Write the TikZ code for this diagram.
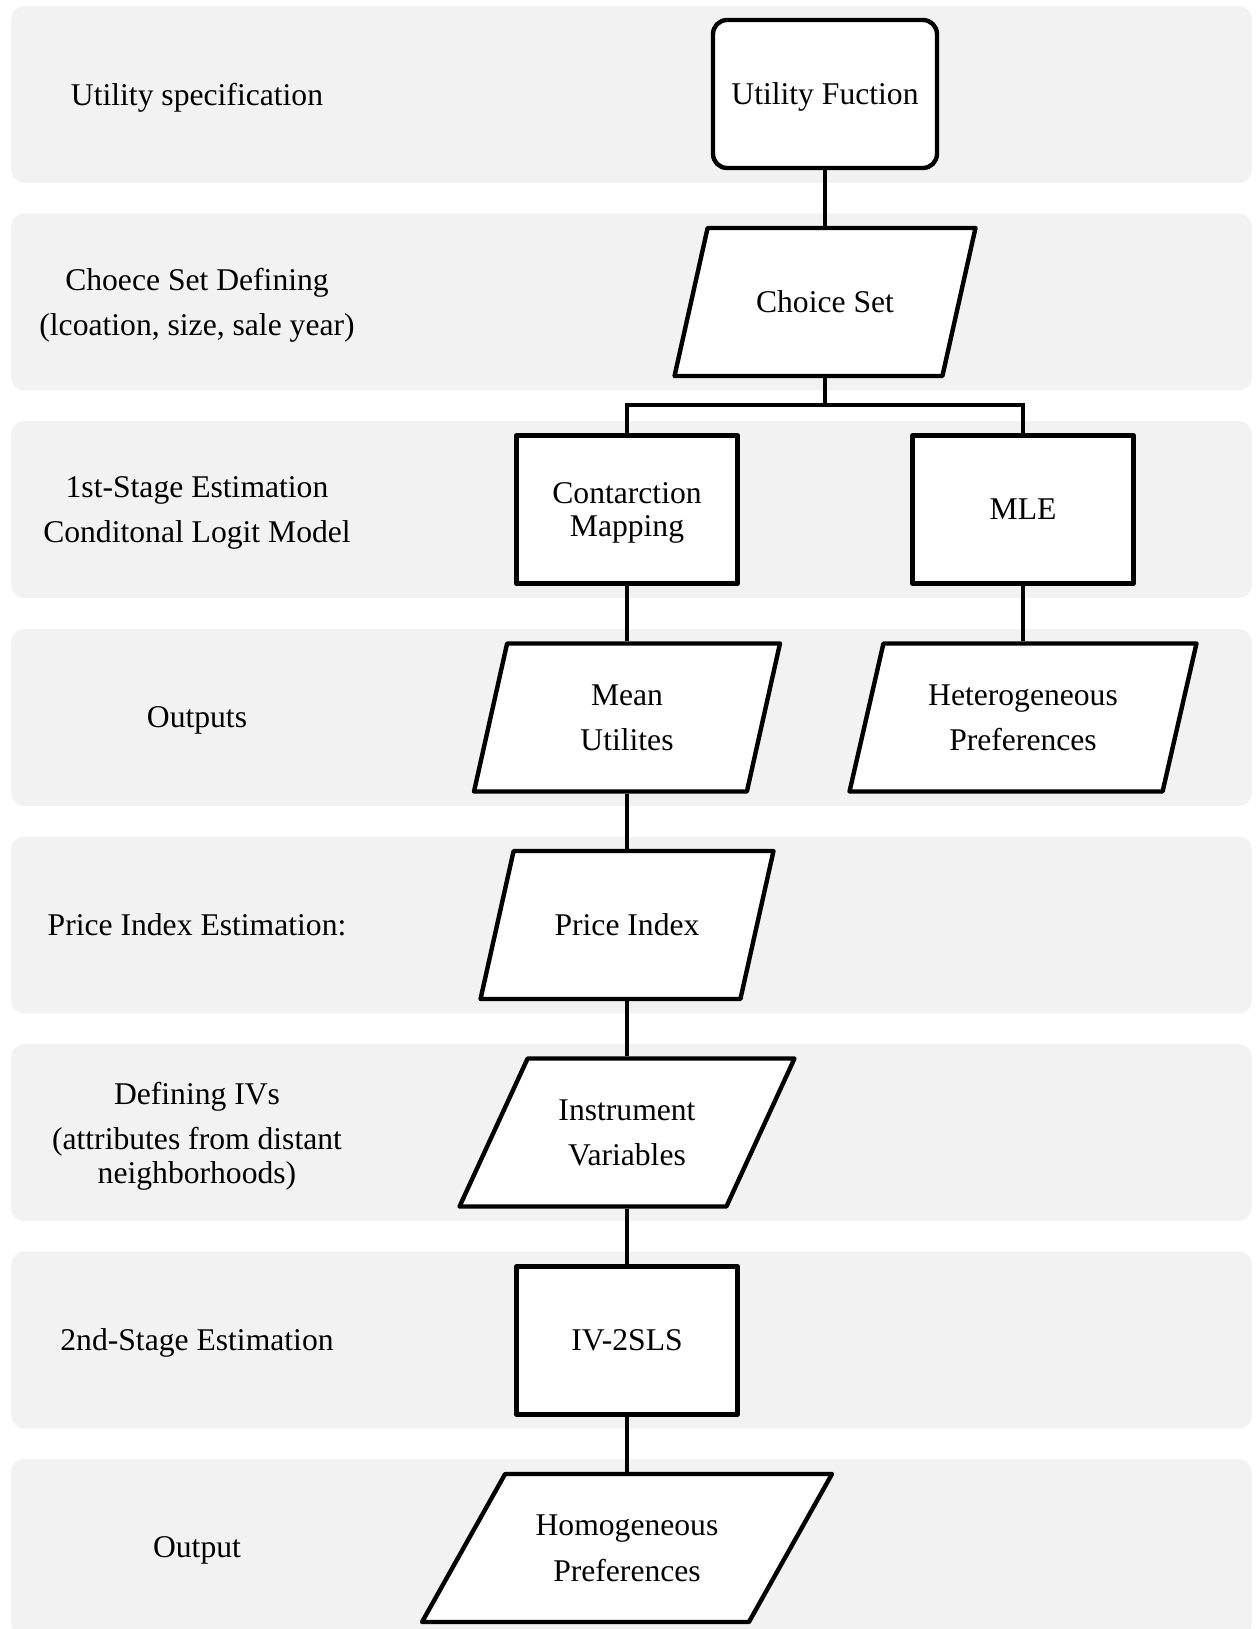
\documentclass[tikz,border=0pt]{standalone}
\usepackage{fontspec}
\setmainfont{Liberation Serif}
\usetikzlibrary{shapes.geometric}
\definecolor{bandgray}{RGB}{242,242,242}

\begin{document}
\begin{tikzpicture}[x=0.02cm,y=-0.02cm,
  every node/.style={font=\fontsize{18}{26}\selectfont,align=center,text depth=0pt},
  band/.style={fill=bandgray,rounded corners=0.26cm,minimum width=24.82cm,minimum height=3.54cm,inner sep=0pt},
  startbox/.style={draw,line width=2.5pt,fill=white,rounded corners=0.28cm,minimum width=4.48cm,minimum height=2.96cm},
  procbox/.style={draw,line width=2.5pt,fill=white,line join=round,minimum width=4.42cm,minimum height=2.96cm},
  databox/.style n args={3}{draw,line width=2.5pt,fill=white,line join=round,trapezium,trapezium left angle=#1,trapezium right angle=#2,trapezium stretches body,inner xsep=0pt,inner ysep=1.48cm,minimum width=#3},
  link/.style={line width=2.5pt}]
\useasboundingbox (0,0) rectangle (1257,1629);
\clip (0,0) rectangle (1257,1629);
% rows
\draw (631.5,94.5) node[band](row1) {};
\draw (631.5,302) node[band](row2) {};
\draw (631.5,509.5) node[band](row3) {};
\draw (631.5,717.5) node[band](row4) {};
\draw (631.5,925) node[band](row5) {};
\draw (631.5,1132.5) node[band](row6) {};
\draw (631.5,1340) node[band](row7) {};
\draw (631.5,1547.5) node[band](row8) {};
% row labels
\draw (197,94.5) node(specl) {Utility specification};
\draw (197,302) node(setl) {Choece Set Defining\\(lcoation, size, sale year)};
\draw (197,509.5) node(estl) {1st-Stage Estimation\\Conditonal Logit Model};
\draw (197,717.5) node(outl) {Outputs};
\draw (197,925) node(pricel) {Price Index Estimation:};
\draw (197,1132.5) node(ivl) {Defining IVs\\(attributes from distant\\[-7pt]neighborhoods)};
\draw (197,1340) node(slsl) {2nd-Stage Estimation};
\draw (197,1547.5) node(outputl) {Output};
% flow
\draw (825,94) node[startbox](utility) {Utility Fuction};
\draw (825,302) node[databox={77.4}{102.6}{6.02cm},label={[name=choicet]center:Choice Set}](choice) {};
\draw (627,509.5) node[procbox](contr) {Contarction\\[-7pt]Mapping};
\draw (1023,509.5) node[procbox](mle) {MLE};
\draw (627,717.5) node[databox={77.4}{102.6}{6.12cm},label={[name=meant]center:{Mean\\Utilites}}](meanu) {};
\draw (1023,717.5) node[databox={77.1}{102.9}{6.94cm},label={[name=heterot]center:{Heterogeneous\\Preferences}}](hetero) {};
\draw (627,925) node[databox={77.4}{102.6}{5.86cm},label={[name=pricet]center:Price Index}](price) {};
\draw (627,1132.5) node[databox={65.3}{114.7}{6.7cm},label={[name=instrt]center:{Instrument\\Variables}}](instr) {};
\draw (627,1340.5) node[procbox](ivsls) {IV-2SLS};
\draw (627,1548) node[databox={60.7}{119.3}{8.2cm},label={[name=homogt]center:{Homogeneous\\Preferences}}](homog) {};
\coordinate (split) at (825,405);
\draw[link] (utility) -- (choice);
\draw[link] (choice) -- (split);
\draw[link] (contr.north) |- (split) -| (mle.north);
\draw[link] (contr) -- (meanu);
\draw[link] (mle) -- (hetero);
\draw[link] (meanu) -- (price);
\draw[link] (price) -- (instr);
\draw[link] (instr) -- (ivsls);
\draw[link] (ivsls) -- (homog);
\end{tikzpicture}
\end{document}
